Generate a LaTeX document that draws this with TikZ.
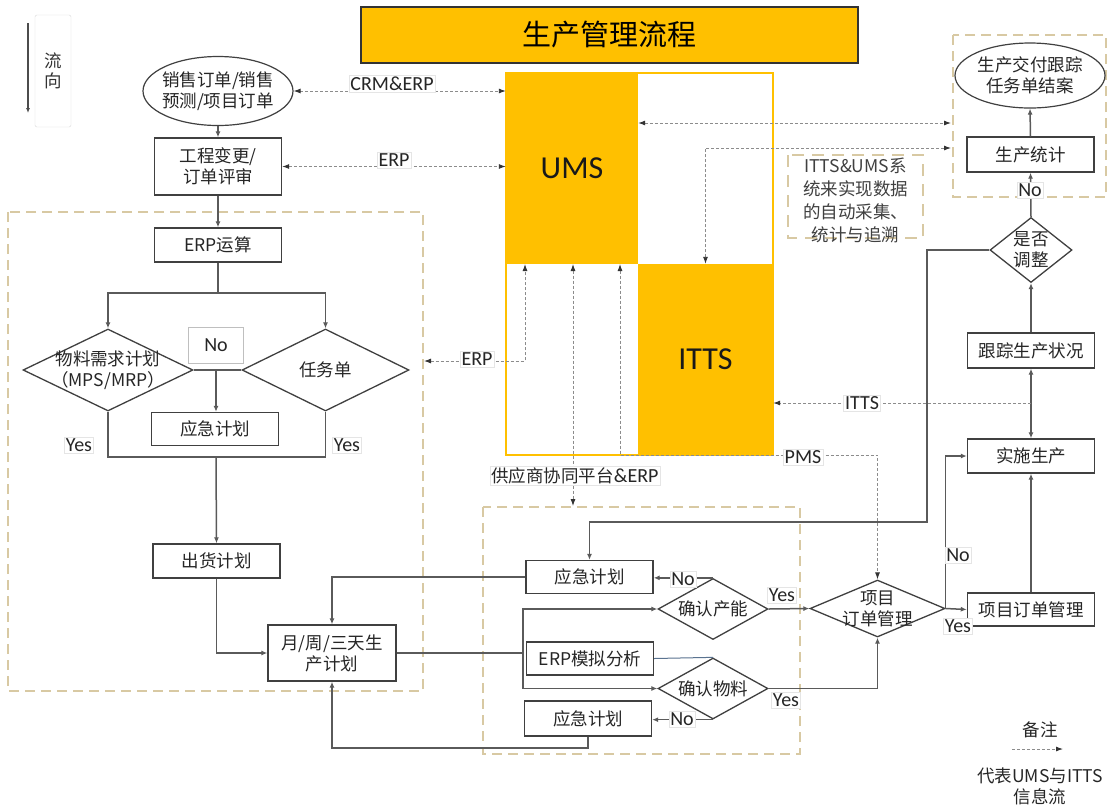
\documentclass[tikz,border=0pt]{standalone}
\usepackage{fontspec}
\setmainfont{Noto Sans CJK SC}
\newfontfamily\latf{Carlito}
\usetikzlibrary{arrows.meta,shapes.geometric}
\definecolor{gold}{HTML}{FFC000}
\definecolor{tanc}{HTML}{D8C9A3}
\definecolor{lnc}{HTML}{5A5A5A}
\definecolor{bxc}{HTML}{404040}
\definecolor{infc}{HTML}{8C8C8C}
\definecolor{simc}{HTML}{5A7390}
\begin{document}
\begin{tikzpicture}[x=1pt,y=-1pt,
  cn/.style={font=\fontsize{17.5}{21}\selectfont, text=black!85},
  box/.style={draw=bxc, line width=1.4pt, fill=white, minimum width=127pt, minimum height=33pt, inner sep=0pt, align=center, cn},
  dia/.style={diamond, draw=bxc, line width=1.3pt, fill=white, inner sep=0pt},
  ell/.style={ellipse, draw=bxc, line width=1.2pt, fill=white, inner sep=0pt},
  plain/.style={draw=lnc, line width=1.5pt},
  conn/.style={plain, -{Latex[length=6pt,width=5pt]}},
  info/.style={draw=infc, line width=0.9pt, dash pattern=on 3pt off 2pt},
  info1/.style={info, -{Latex[length=7pt,width=5pt,color=black!80]}},
  info2/.style={info, {Latex[length=7pt,width=5pt,color=black!80]}-{Latex[length=7pt,width=5pt,color=black!80]}},
  lbl/.style={font=\latf\fontsize{20}{22}\selectfont, fill=white, draw=black!10, line width=0.5pt, inner sep=1.5pt, text=black!85},
  grp/.style={draw=tanc, line width=1.5pt, dash pattern=on 10pt off 6pt}]
\fill[white] (0,0) rectangle (1112,807);
\useasboundingbox (0,0) rectangle (1112,807);

% groups
\draw[grp] (8,212) rectangle (423,691);
\draw[grp] (483,507) rectangle (800,754);
\draw[grp] (953,35) rectangle (1106,197);
\draw[grp, line width=1.2pt, dash pattern=on 12pt off 8pt] (788,155) rectangle (923,238);
\node[font=\fontsize{17.5}{23}\selectfont, align=center, text=black!75] (note) at (855.5,200) {ITTS\&UMS系\\统来实现数据\\的自动采集、\\统计与追溯};

% title
\node[draw=black!80, line width=1.5pt, fill=gold, minimum width=497pt, minimum height=56pt, inner sep=0pt, font=\fontsize{29}{32}\selectfont] (title) at (609.5,35) {生产管理流程};

% flow direction
\node[draw=black!15, rounded corners=2pt, minimum width=36pt, minimum height=112pt, inner sep=0pt, align=center, font=\fontsize{17.5}{20}\selectfont, text=black!80] (flow) at (53,71) {流\\向};
\coordinate (fa) at (28,23); \coordinate (fb) at (28,113);
\draw[line width=1.3pt, draw=black!70, -{Latex[length=5pt,width=4pt]}] (fa) -- (fb);

% UMS / ITTS
\node[fill=gold, minimum width=132pt, minimum height=191pt, inner sep=0pt, text=black!90, font=\latf\fontsize{32}{34}\selectfont] (ums) at (572,168.5) {UMS};
\node[fill=gold, minimum width=135pt, minimum height=191pt, inner sep=0pt, text=black!90, font=\latf\fontsize{32}{34}\selectfont] (itts) at (705.5,359.5) {ITTS};
\draw[gold, line width=1.5pt] (506,73) rectangle (773,455);

% left column
\node[ell, minimum width=150pt, minimum height=69pt, label={[cn,align=center]center:销售订单/销售\\预测/项目订单}] (ord) at (218,91) {};
\node[box, minimum height=57pt] (eng) at (218,166.5) {工程变更/\\订单评审};
\node[box, minimum height=34pt] (erpc) at (218,245) {ERP运算};
\node[dia, minimum width=170pt, minimum height=82pt, label={[cn,align=center]center:物料需求计划\\（MPS/MRP）}] (mrp) at (108,370) {};
\node[dia, minimum width=167pt, minimum height=82pt, label={[cn]center:任务单}] (task) at (325.5,370) {};
\node[box] (emL) at (215,429) {应急计划};
\node[box, minimum height=34pt] (ship) at (216.5,561) {出货计划};
\node[box, minimum width=128pt, minimum height=56pt] (plan) at (332,653) {月/周/三天生\\产计划};

% middle bottom
\node[box] (em1) at (589.5,577) {应急计划};
\node[box] (sim) at (590,658.5) {ERP模拟分析};
\node[box, minimum height=35pt] (em2) at (588,718.5) {应急计划};
\node[dia, minimum width=110pt, minimum height=61pt, label={[cn]center:确认产能}] (cap) at (713,609) {};
\node[dia, minimum width=110pt, minimum height=61pt, label={[cn]center:确认物料}] (mat) at (713,688.5) {};
\node[dia, minimum width=135pt, minimum height=57pt, label={[cn,align=center]center:项目\\订单管理}] (pod) at (877.5,608.5) {};

% right column
\node[box] (pom) at (1031,609.5) {项目订单管理};
\node[box, minimum height=34pt] (exe) at (1031,456) {实施生产};
\node[box, minimum height=35pt] (trk) at (1031,350.5) {跟踪生产状况};
\node[dia, minimum width=82pt, minimum height=65pt, label={[cn,align=center]center:是否\\调整}] (adj) at (1031,250) {};
\node[box, minimum height=35pt] (stat) at (1030.5,154.5) {生产统计};
\node[ell, minimum width=150pt, minimum height=65pt, label={[cn,align=center]center:生产交付跟踪\\任务单结案}] (done) at (1030,75.5) {};

% solid connectors
\draw[conn] (ord.south) -- (eng.north);
\draw[conn] (eng.south) -- (erpc.north);
\coordinate (sp1) at (218,293);
\draw[plain] (erpc.south) -- (sp1);
\draw[conn] (sp1) -| (mrp.north);
\draw[conn] (sp1) -| (task.north);
\draw[plain] (mrp.east) -- (task.west);
\coordinate (nm) at (216,370);
\draw[conn] (nm) -- (nm |- emL.north);
\coordinate (j1) at (216,457);
\draw[plain] (mrp.south) |- (j1) -| (task.south);
\draw[conn] (j1) -- (ship.north);
\draw[conn] (ship.south) |- (plan.west);
\coordinate (sp2) at (523,653);
\draw[plain] (plan.east) -- (sp2);
\draw[conn] (sp2) |- (cap.west);
\draw[conn] (sp2) |- (mat.west);
\draw[draw=simc, line width=1pt] (sim.east) -- (mat.north);
\draw[conn] (cap.north) -- (cap.north -| em1.east);
\draw[conn] (mat.south) -- (mat.south -| em2.east);
\draw[conn] (em1.west) -| (plan.north);
\coordinate (b1) at (588,748);
\draw[conn] (em2.south) -- (b1) -| (plan.south);
\draw[conn] (cap.east) -- (pod.west);
\draw[conn] (mat.east) -| (pod.south);
\draw[conn] (pod.east) -- (pom.west);
\draw[conn] (pod.east) |- (exe.west);
\draw[conn] (pom.north) -- (exe.south);
\draw[plain, {Latex[length=6pt,width=5pt]}-{Latex[length=6pt,width=5pt]}] (exe.north) -- (trk.south);
\draw[conn] (trk.north) -- (adj.south);
\draw[conn] (adj.north) -- (stat.south);
\draw[conn] (stat.north) -- (done.south);
\coordinate (k1) at (927,250); \coordinate (k2) at (927,522);
\draw[conn] (adj.west) -- (k1) -- (k2) -| (em1.north);

% information flows
\coordinate (rgA) at (951,123); \coordinate (rgB) at (951,148);
\draw[info2] (ums.east |- rgA) -- (rgA);
\draw[info2] (itts.north) |- (rgB);
\draw[info2] (ord.east) -- (ord.east -| ums.west);
\draw[info2] (eng.east) -- (eng.east -| ums.west);
\coordinate (u1) at (525,264); \coordinate (lgE) at (424,361);
\draw[info2] (lgE) -| (u1);
\coordinate (u2) at (573,264); \coordinate (bgT) at (573,506);
\draw[info2] (u2) -- (bgT);
\coordinate (u3) at (620,264); \coordinate (pm1) at (620,455);
\draw[info2] (u3) -- (pm1) -| (pod.north);
\coordinate (tj) at (1031,403);
\draw[info1] (tj) -- (tj -| itts.east);

% labels
\node[lbl, draw=black!25, minimum width=55pt, minimum height=36pt] (nol) at (216,345) {No};
\node[lbl] (y1) at (79,445) {Yes};
\node[lbl] (y2) at (347,445) {Yes};
\node[lbl] (n1) at (683,579) {No};
\node[lbl] (n2) at (682,719) {No};
\node[lbl] (y3) at (782,595) {Yes};
\node[lbl] (y4) at (786,700) {Yes};
\node[lbl] (y5) at (958,626) {Yes};
\node[lbl] (n3) at (958,555) {No};
\node[lbl] (n4) at (1030,190) {No};
\node[lbl] (l1) at (392,84) {CRM\&ERP};
\node[lbl] (l2) at (394,160) {ERP};
\node[lbl] (l3) at (477,359) {ERP};
\node[lbl, font=\fontsize{17.5}{21}\selectfont] (l4) at (575,476) {供应商协同平台{\latf\fontsize{20}{22}\selectfont\&ERP}};
\node[lbl] (l5) at (803,457) {PMS};
\node[lbl] (l6) at (862,403) {ITTS};

% legend
\node[cn] (rem) at (1040,730) {备注};
\coordinate (la) at (1012,749); \coordinate (lb) at (1063,749);
\draw[info1] (la) -- (lb);
\node[cn, align=center] (leg) at (1040,786) {代表UMS与ITTS\\信息流};
\end{tikzpicture}
\end{document}
